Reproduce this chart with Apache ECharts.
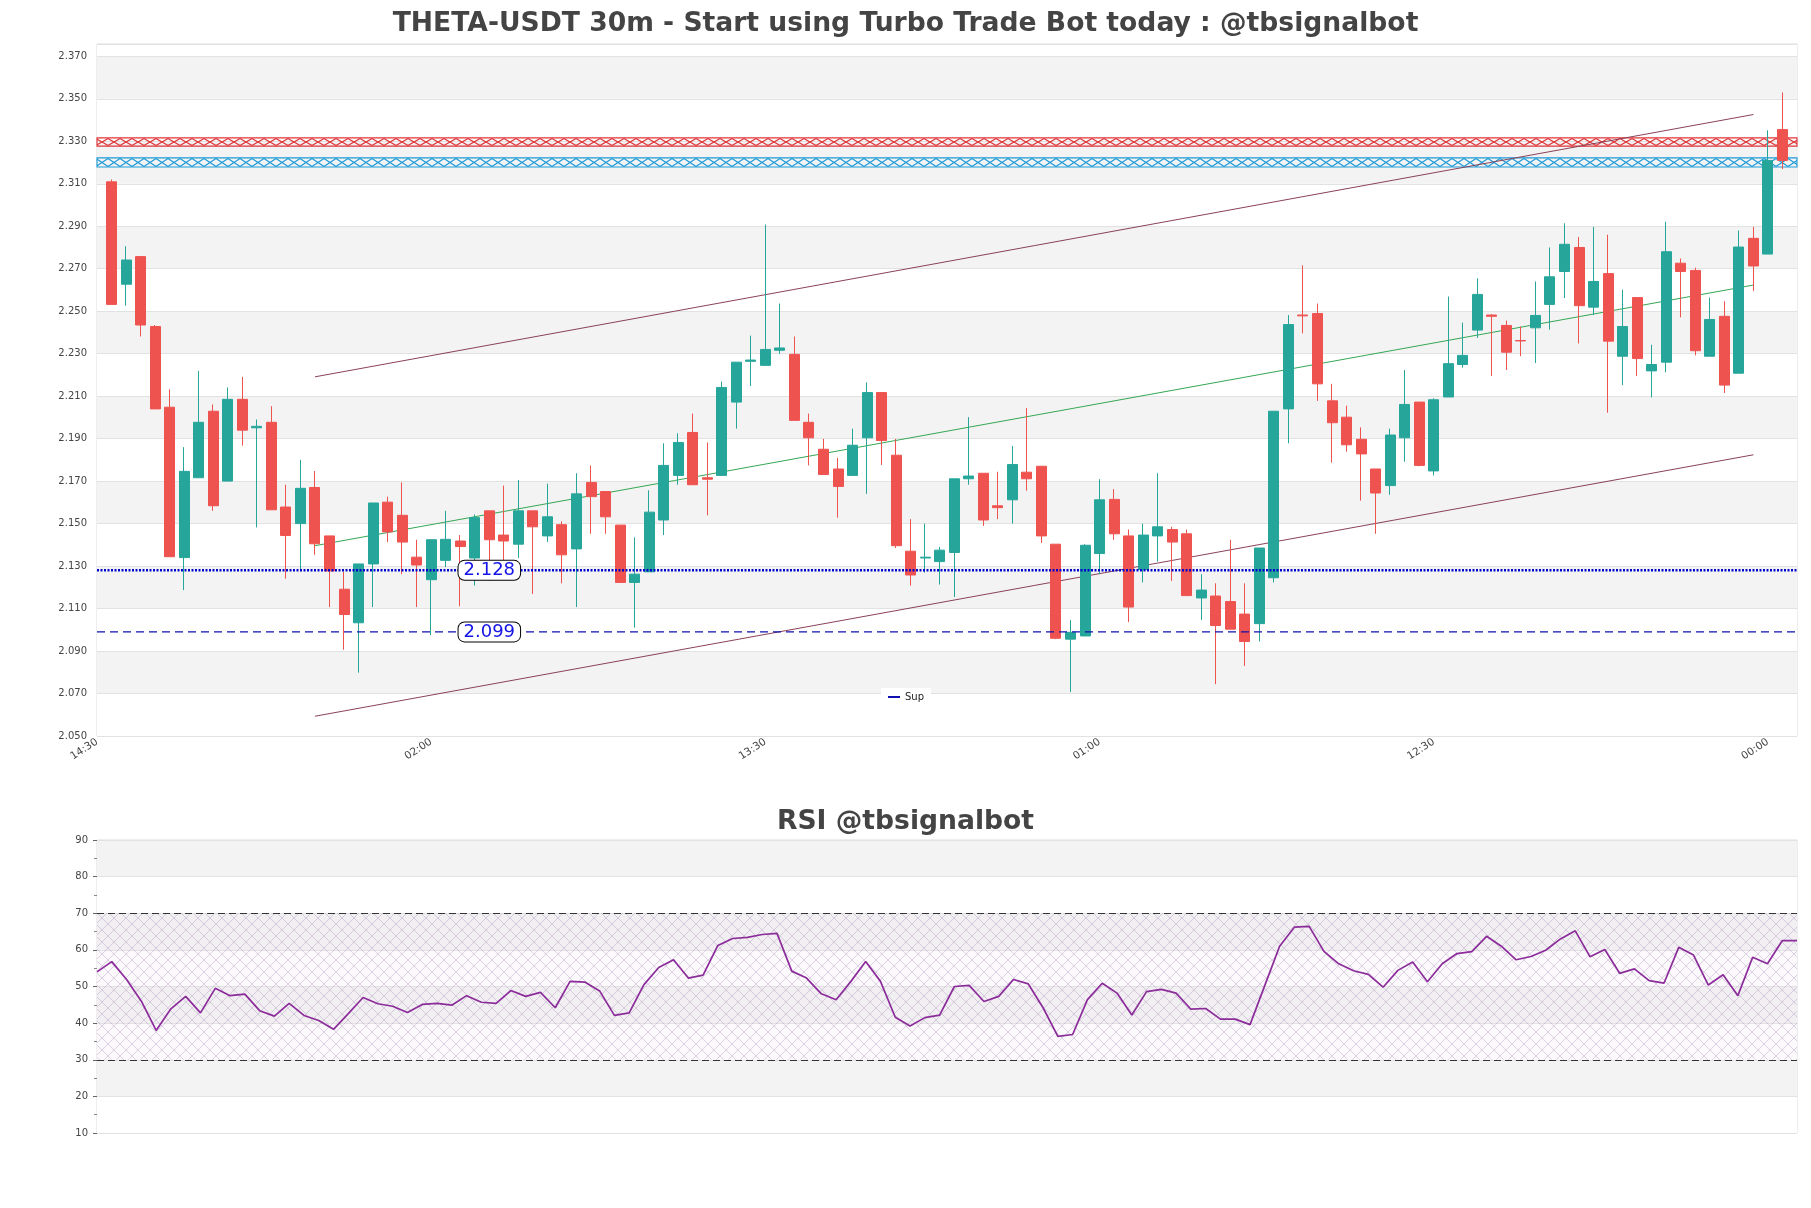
<!DOCTYPE html>
<html><head><meta charset="utf-8">
<script src="https://cdn.jsdelivr.net/npm/echarts@6/dist/echarts.min.js"></script>
<style>html,body{margin:0;padding:0;background:#fff}#c{width:1811px;height:1208px}</style>
</head><body><div id="c"></div>
<script>
// ---------------- data ----------------
const tickLabels = ['14:30','02:00','13:30','01:00','12:30','00:00'];
const openP = [
2.3109,2.2627,2.2757,2.2428,2.2048,2.1340,2.1716,2.2029,2.1700,2.2085,
2.1951,2.1977,2.1578,2.1500,2.1670,2.1442,2.1191,2.1033,2.1310,2.1601,
2.1539,2.1342,2.1236,2.1327,2.1418,2.1338,2.1560,2.1446,2.1403,2.1560,
2.1442,2.1495,2.1381,2.1694,2.1651,2.1493,2.1223,2.1273,2.1517,2.1727,
2.1929,2.1716,2.1727,2.2072,2.2264,2.2245,2.2316,2.2297,2.1977,2.1850,
2.1757,2.1727,2.1904,2.2117,2.1822,2.1370,2.1338,2.1321,2.1364,2.1711,
2.1737,2.1584,2.1612,2.1742,2.1770,2.1403,2.0956,2.0971,2.1359,2.1614,
2.1442,2.1284,2.1442,2.1472,2.1452,2.1150,2.1159,2.1133,2.1074,2.1029,
2.1245,2.2040,2.2482,2.2489,2.2078,2.2001,2.1897,2.1757,2.1679,2.1904,
2.2072,2.1748,2.2096,2.2249,2.2411,2.2482,2.2433,2.2362,2.2422,2.2532,
2.2687,2.2800,2.2519,2.2677,2.2288,2.2564,2.2219,2.2260,2.2726,2.2692,
2.2288,2.2476,2.2208,2.2843,2.2769,2.3355];
const closeP = [
2.2532,2.2741,2.2435,2.2040,2.1344,2.1746,2.1977,2.1584,2.2085,2.1940,
2.1958,2.1565,2.1444,2.1666,2.1405,2.1277,2.1072,2.1310,2.1597,2.1461,
2.1413,2.1305,2.1424,2.1426,2.1392,2.1528,2.1424,2.1418,2.1560,2.1485,
2.1532,2.1353,2.1640,2.1627,2.1532,2.1223,2.1262,2.1554,2.1774,2.1882,
2.1683,2.1709,2.2141,2.2260,2.2270,2.2320,2.2327,2.1986,2.1904,2.1731,
2.1675,2.1869,2.2117,2.1891,2.1396,2.1258,2.1342,2.1375,2.1711,2.1724,
2.1517,2.1575,2.1778,2.1711,2.1442,2.0960,2.0988,2.1398,2.1612,2.1452,
2.1107,2.1446,2.1485,2.1413,2.1161,2.1187,2.1020,2.1003,2.0945,2.1385,
2.2029,2.2437,2.2478,2.2158,2.1975,2.1871,2.1828,2.1644,2.1917,2.2061,
2.1774,2.2083,2.2253,2.2292,2.2579,2.2476,2.2307,2.2360,2.2480,2.2662,
2.2815,2.2526,2.2640,2.2359,2.2428,2.2277,2.2249,2.2780,2.2687,2.2314,
2.2461,2.2152,2.2802,2.2713,2.3210,2.3210];
const lowP = [
2.2532,2.2526,2.2381,2.2040,2.1344,2.1187,2.1716,2.1560,2.1700,2.1867,
2.1482,2.1565,2.1241,2.1277,2.1353,2.1107,2.0906,2.0798,2.1107,2.1413,
2.1262,2.1107,2.0975,2.1295,2.1111,2.1208,2.1230,2.1295,2.1338,2.1169,
2.1413,2.1219,2.1107,2.1452,2.1452,2.1223,2.1010,2.1273,2.1446,2.1683,
2.1683,2.1539,2.1727,2.1947,2.2148,2.2245,2.2299,2.1986,2.1774,2.1731,
2.1528,2.1727,2.1640,2.1776,2.1385,2.1208,2.1269,2.1213,2.1154,2.1683,
2.1489,2.1521,2.1500,2.1655,2.1409,2.0956,2.0707,2.0971,2.1262,2.1424,
2.1036,2.1223,2.1321,2.1230,2.1161,2.1046,2.0744,2.1003,2.0830,2.0945,
2.1223,2.1878,2.2396,2.2078,2.1787,2.1839,2.1608,2.1452,2.1636,2.1791,
2.1770,2.1727,2.2096,2.2234,2.2374,2.2195,2.2223,2.2288,2.2256,2.2413,
2.2562,2.2348,2.2482,2.2022,2.2152,2.2195,2.2094,2.2212,2.2471,2.2292,
2.2288,2.2115,2.2208,2.2595,2.2769,2.3169];
const highP = [
2.3120,2.2806,2.2760,2.2435,2.2132,2.1860,2.2219,2.2061,2.2141,2.2191,
2.1990,2.2053,2.1683,2.1800,2.1748,2.1442,2.1273,2.1310,2.1597,2.1627,
2.1694,2.1424,2.1424,2.1560,2.1446,2.1543,2.1560,2.1679,2.1705,2.1560,
2.1688,2.1511,2.1737,2.1774,2.1651,2.1493,2.1435,2.1657,2.1878,2.1925,
2.2018,2.1882,2.2169,2.2260,2.2385,2.2908,2.2536,2.2381,2.2018,2.1899,
2.1809,2.1947,2.2165,2.2117,2.1899,2.1521,2.1500,2.1390,2.1711,2.2001,
2.1737,2.1744,2.1865,2.2044,2.1770,2.1403,2.1046,2.1403,2.1709,2.1662,
2.1472,2.1500,2.1737,2.1485,2.1472,2.1262,2.1219,2.1424,2.1219,2.1385,
2.2029,2.2482,2.2716,2.2536,2.2158,2.2055,2.1953,2.1757,2.1947,2.2223,
2.2072,2.2090,2.2569,2.2446,2.2655,2.2485,2.2456,2.2428,2.2640,2.2800,
2.2914,2.2849,2.2897,2.2860,2.2601,2.2564,2.2342,2.2921,2.2748,2.2705,
2.2564,2.2547,2.2880,2.2897,2.3352,2.3530];
const rsiValues = [
54.0,56.8,51.9,46.0,38.0,43.9,47.3,42.8,49.5,47.5,
47.9,43.4,41.9,45.4,42.1,40.7,38.3,42.6,47.0,45.3,
44.6,42.9,45.1,45.4,44.9,47.5,45.7,45.4,48.9,47.3,
48.4,44.2,51.4,51.2,48.8,42.1,42.8,50.5,55.2,57.3,
52.3,53.1,61.2,63.1,63.4,64.2,64.5,54.2,52.3,48.0,
46.4,51.4,56.8,51.4,41.6,39.2,41.5,42.2,50.0,50.3,
45.9,47.3,51.9,50.7,44.2,36.4,36.9,46.4,50.9,48.2,
42.2,48.6,49.2,48.2,43.8,44.0,41.1,41.1,39.6,50.3,
61.0,66.2,66.4,59.6,56.2,54.3,53.3,49.8,54.4,56.7,
51.3,56.2,59.0,59.5,63.7,61.0,57.3,58.2,59.9,63.0,
65.2,58.1,60.1,53.6,54.8,51.6,50.9,60.7,58.6,50.4,
53.2,47.5,58.0,56.2,62.5,62.5];
const supportLevels = [2.128, 2.099];
const supportLabelSlot = 27;
const resistanceZones = [[2.3277, 2.3316], [2.3179, 2.3222]];
const channelUpper = [[15, 2.2191], [114, 2.3426]];
const channelLower = [[15, 2.0593], [114, 2.1824]];
const channelMid   = [[15, 2.1396], [114, 2.2623]];
const rsiLevels = [70, 30];

// ---------------- layout / style ----------------
const G1 = {left: 97, top: 44, width: 1700, height: 692};
const G2 = {left: 97, top: 840, width: 1700, height: 293};
const Y1 = {min: 2.05, max: 2.3758};
const FONT = 'DejaVu Sans';
const UP = '#26a69a', DOWN = '#ef5350';

const nSlots = openP.length + 2;
const cats = [];
for (let i = 0; i < nSlots; i++) {
  const m = (14 * 60 + 30 + i * 30) % 1440;
  cats.push(String(Math.floor(m / 60)).padStart(2, '0') + ':' + String(m % 60).padStart(2, '0'));
}
const candles = openP.map((o, i) => [i + 1, o, closeP[i], lowP[i], highP[i]]);
const rsiCats = rsiValues.map((v, i) => i);

function pxY(v) { return G1.top + (Y1.max - v) / (Y1.max - Y1.min) * G1.height; }
function xTile(color, w, h) {
  const c = document.createElement('canvas'); c.width = w; c.height = h;
  const g = c.getContext('2d'); g.strokeStyle = color; g.lineWidth = 1.1;
  g.beginPath(); g.moveTo(0, 0.5); g.lineTo(w, h - 0.5); g.moveTo(w, 0.5); g.lineTo(0, h - 0.5); g.stroke();
  return c;
}
function crossTile(color, s) {
  const c = document.createElement('canvas'); c.width = s; c.height = s;
  const g = c.getContext('2d');
  g.fillStyle = 'rgba(235,220,240,0.18)'; g.fillRect(0, 0, s, s);
  g.strokeStyle = color; g.lineWidth = 0.8;
  g.beginPath(); g.moveTo(0, 0); g.lineTo(s, s); g.moveTo(s, 0); g.lineTo(0, s); g.stroke();
  return c;
}
const zoneColors = ['#e0363a', '#1e9bd7'];
const zoneAreas = resistanceZones.map((z, k) => {
  const top = pxY(z[1]), bot = pxY(z[0]);
  const h = Math.max(4, Math.round(bot - top));
  return [{yAxis: z[1], itemStyle: {color: {image: xTile(zoneColors[k], 12, h), repeat: 'repeat', x: 0, y: Math.round(top)},
            borderColor: zoneColors[k], borderWidth: 1.1}}, {yAxis: z[0]}];
});

const labelBox = {show: true, position: 'inside', color: '#1414e6', fontSize: 18, fontFamily: FONT,
  backgroundColor: '#fff', borderColor: '#000', borderWidth: 1, borderRadius: 6, padding: [0, 5], lineHeight: 19};

const chart = echarts.init(document.getElementById('c'), null, {renderer: 'canvas'});
chart.setOption({
  animation: false,
  backgroundColor: '#fff',
  title: [
    {text: 'THETA-USDT 30m - Start using Turbo Trade Bot today : @tbsignalbot', left: 'center', top: 11, padding: 0,
     textStyle: {fontFamily: FONT, fontSize: 26.6, fontWeight: 'bold', color: '#444'}},
    {text: 'RSI @tbsignalbot', left: 'center', top: 809, padding: 0,
     textStyle: {fontFamily: FONT, fontSize: 26.6, fontWeight: 'bold', color: '#444'}}
  ],
  legend: {data: ['Sup'], left: 881, top: 688, padding: [4, 7], backgroundColor: '#fff',
    icon: 'rect', itemWidth: 12, itemHeight: 2, textStyle: {fontFamily: FONT, fontSize: 10, color: '#222'}},
  grid: [
    Object.assign({show: true, borderColor: '#dcdcdc', borderWidth: 1, backgroundColor: 'transparent'}, G1),
    Object.assign({show: true, borderColor: '#dcdcdc', borderWidth: 1, backgroundColor: 'transparent'}, G2)
  ],
  xAxis: [
    {type: 'category', gridIndex: 0, data: cats, boundaryGap: false,
     axisLine: {show: false}, axisTick: {show: false}, splitLine: {show: false},
     axisLabel: {interval: (i, v) => i % 23 === 0 && tickLabels.includes(v), rotate: 33, fontSize: 10.5,
       fontFamily: FONT, color: '#444', margin: 5}},
    {type: 'category', gridIndex: 1, data: rsiCats, boundaryGap: false,
     axisLine: {show: false}, axisTick: {show: false}, axisLabel: {show: false}, splitLine: {show: false}}
  ],
  yAxis: [
    {type: 'value', gridIndex: 0, min: Y1.min, max: Y1.max, interval: 0.02, scale: true,
     axisLine: {show: false}, axisTick: {show: false},
     axisLabel: {formatter: v => v.toFixed(3), fontSize: 10, fontFamily: FONT, color: '#444', margin: 10, showMaxLabel: false},
     splitLine: {show: true, lineStyle: {color: '#e2e2e2', width: 1}},
     splitArea: {show: true, areaStyle: {color: ['#ffffff', '#f3f3f3']}}},
    {type: 'value', gridIndex: 1, min: 10, max: 90, interval: 10,
     axisLine: {show: false}, axisTick: {show: true, length: 4, lineStyle: {color: '#666'}},
     minorTick: {show: true, splitNumber: 2, length: 3, lineStyle: {color: '#888'}},
     axisLabel: {fontSize: 10, fontFamily: FONT, color: '#444', margin: 9},
     splitLine: {show: true, lineStyle: {color: '#e2e2e2', width: 1}},
     splitArea: {show: true, areaStyle: {color: ['#ffffff', '#f3f3f3']}}}
  ],
  series: [
    {type: 'candlestick', name: 'price', xAxisIndex: 0, yAxisIndex: 0, data: candles,
     encode: {x: 0, y: [1, 2, 3, 4]}, barWidth: 10.5,
     itemStyle: {color: UP, color0: DOWN, borderColor: UP, borderColor0: DOWN, borderWidth: 1},
     markArea: {silent: true, data: zoneAreas}, z: 5},
    {type: 'line', name: 'chanUp', data: channelUpper, symbol: 'none', lineStyle: {color: '#8a4257', width: 1}, z: 4},
    {type: 'line', name: 'chanLow', data: channelLower, symbol: 'none', lineStyle: {color: '#8a4257', width: 1}, z: 4},
    {type: 'line', name: 'chanMid', data: channelMid, symbol: 'none', lineStyle: {color: '#34a853', width: 1}, z: 4},
    {type: 'line', name: 'S1', data: [[0, supportLevels[0]], [nSlots - 1, supportLevels[0]]], symbol: 'none',
     lineStyle: {color: '#0000cc', width: 2.5, type: [2, 1.5]}, z: 6,
     markPoint: {symbolSize: 0, z: 20, data: [{coord: [supportLabelSlot, supportLevels[0]]}],
       label: Object.assign({formatter: () => supportLevels[0].toFixed(3)}, labelBox)}},
    {type: 'line', name: 'Sup', data: [[0, supportLevels[1]], [nSlots - 1, supportLevels[1]]], symbol: 'none',
     itemStyle: {color: '#1010b0'},
     lineStyle: {color: '#1010b0', width: 1.3, type: [8, 5]}, z: 6,
     markPoint: {symbolSize: 0, z: 20, data: [{coord: [supportLabelSlot, supportLevels[1]]}],
       label: Object.assign({formatter: () => supportLevels[1].toFixed(3)}, labelBox)}},
    {type: 'line', name: 'RSI', xAxisIndex: 1, yAxisIndex: 1, data: rsiValues, symbol: 'none',
     lineStyle: {color: '#8b2c9a', width: 1.7}, z: 5,
     markArea: {silent: true, data: [[{yAxis: rsiLevels[0], itemStyle: {color: {image: crossTile('rgba(150,120,170,0.38)', 12), repeat: 'repeat'}}}, {yAxis: rsiLevels[1]}]]},
     markLine: {silent: true, symbol: 'none', label: {show: false},
       lineStyle: {color: '#333', width: 1.2, type: [7, 4]},
       data: rsiLevels.map(v => ({yAxis: v}))}}
  ]
});
</script></body></html>
